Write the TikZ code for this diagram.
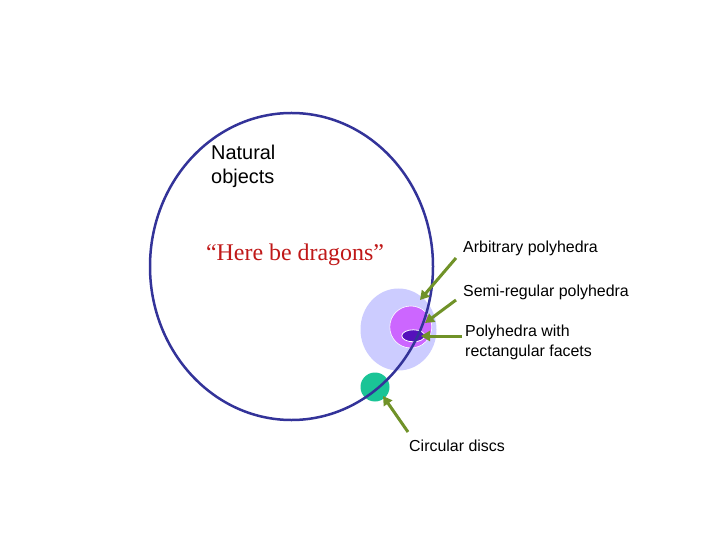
\documentclass[tikz,border=0pt]{standalone}
\usepackage{fontspec}
\setmainfont{Liberation Serif}
\setsansfont{Liberation Sans}
\usetikzlibrary{shapes.geometric,arrows.meta}
\definecolor{rimblue}{RGB}{51,51,153}
\definecolor{lav}{RGB}{204,204,255}
\definecolor{violetfill}{RGB}{204,102,255}
\definecolor{deeppurple}{RGB}{85,17,187}
\definecolor{tealfill}{RGB}{26,196,150}
\definecolor{arrowgreen}{RGB}{112,146,40}
\definecolor{dragonred}{RGB}{192,24,24}
\tikzset{
  blob/.style={ellipse, inner sep=0pt},
  lbl/.style={font=\sffamily\fontsize{16}{20}\selectfont, anchor=west, inner sep=0pt, align=left},
  pointer/.style={draw=arrowgreen, line width=3bp, -{Triangle[width=10bp,length=9bp]}, shorten >=0pt},
}
\begin{document}
\begin{tikzpicture}[x=1bp,y=-1bp]
\useasboundingbox (0,0) rectangle (720,540);
\fill[white] (0,0) rectangle (720,540);
% discs
\node[blob, fill=lav, minimum width=76bp, minimum height=82bp] (arb) at (398.5,329.5) {};
\node[blob, fill=violetfill, draw=white, line width=0.6bp, minimum width=42bp, minimum height=42bp] (semi) at (410.8,327) {};
\node[blob, fill=deeppurple, draw=white, line width=0.8bp, minimum width=23bp, minimum height=12bp] (rect) at (413.3,335.8) {};
\node[blob, fill=tealfill, minimum width=29bp, minimum height=29bp] (disc) at (375,387) {};
% big ellipse
\node[blob, draw=rimblue, line width=2.5bp, minimum width=283bp, minimum height=307bp] (nat) at (291.5,266.5) {};
% labels
\node[lbl, font=\sffamily\fontsize{20}{24}\selectfont] (natl) at (211,166) {Natural\\objects};
\node[font=\fontsize{24}{28}\selectfont, text=dragonred, inner sep=0pt] (drag) at (295,255) {“Here be dragons”};
\node[lbl] (arbl) at (463,248) {Arbitrary polyhedra};
\node[lbl] (semil) at (463,292) {Semi-regular polyhedra};
\node[lbl] (rectl) at (465,342) {Polyhedra with\\rectangular facets};
\node[lbl] (discl) at (409,446) {Circular discs};
% arrow ends
\coordinate (a1s) at (456,258);
\coordinate (a1e) at (420,300);
\coordinate (a2s) at (456,300);
\coordinate (a2e) at (425,323);
\coordinate (a3s) at (462,336);
\coordinate (a3e) at (421,336);
\coordinate (a4s) at (408,432);
\coordinate (a4e) at (383,396);
\draw[pointer] (a1s) -- (a1e);
\draw[pointer] (a2s) -- (a2e);
\draw[pointer] (a3s) -- (a3e);
\draw[pointer] (a4s) -- (a4e);
\end{tikzpicture}
\end{document}
